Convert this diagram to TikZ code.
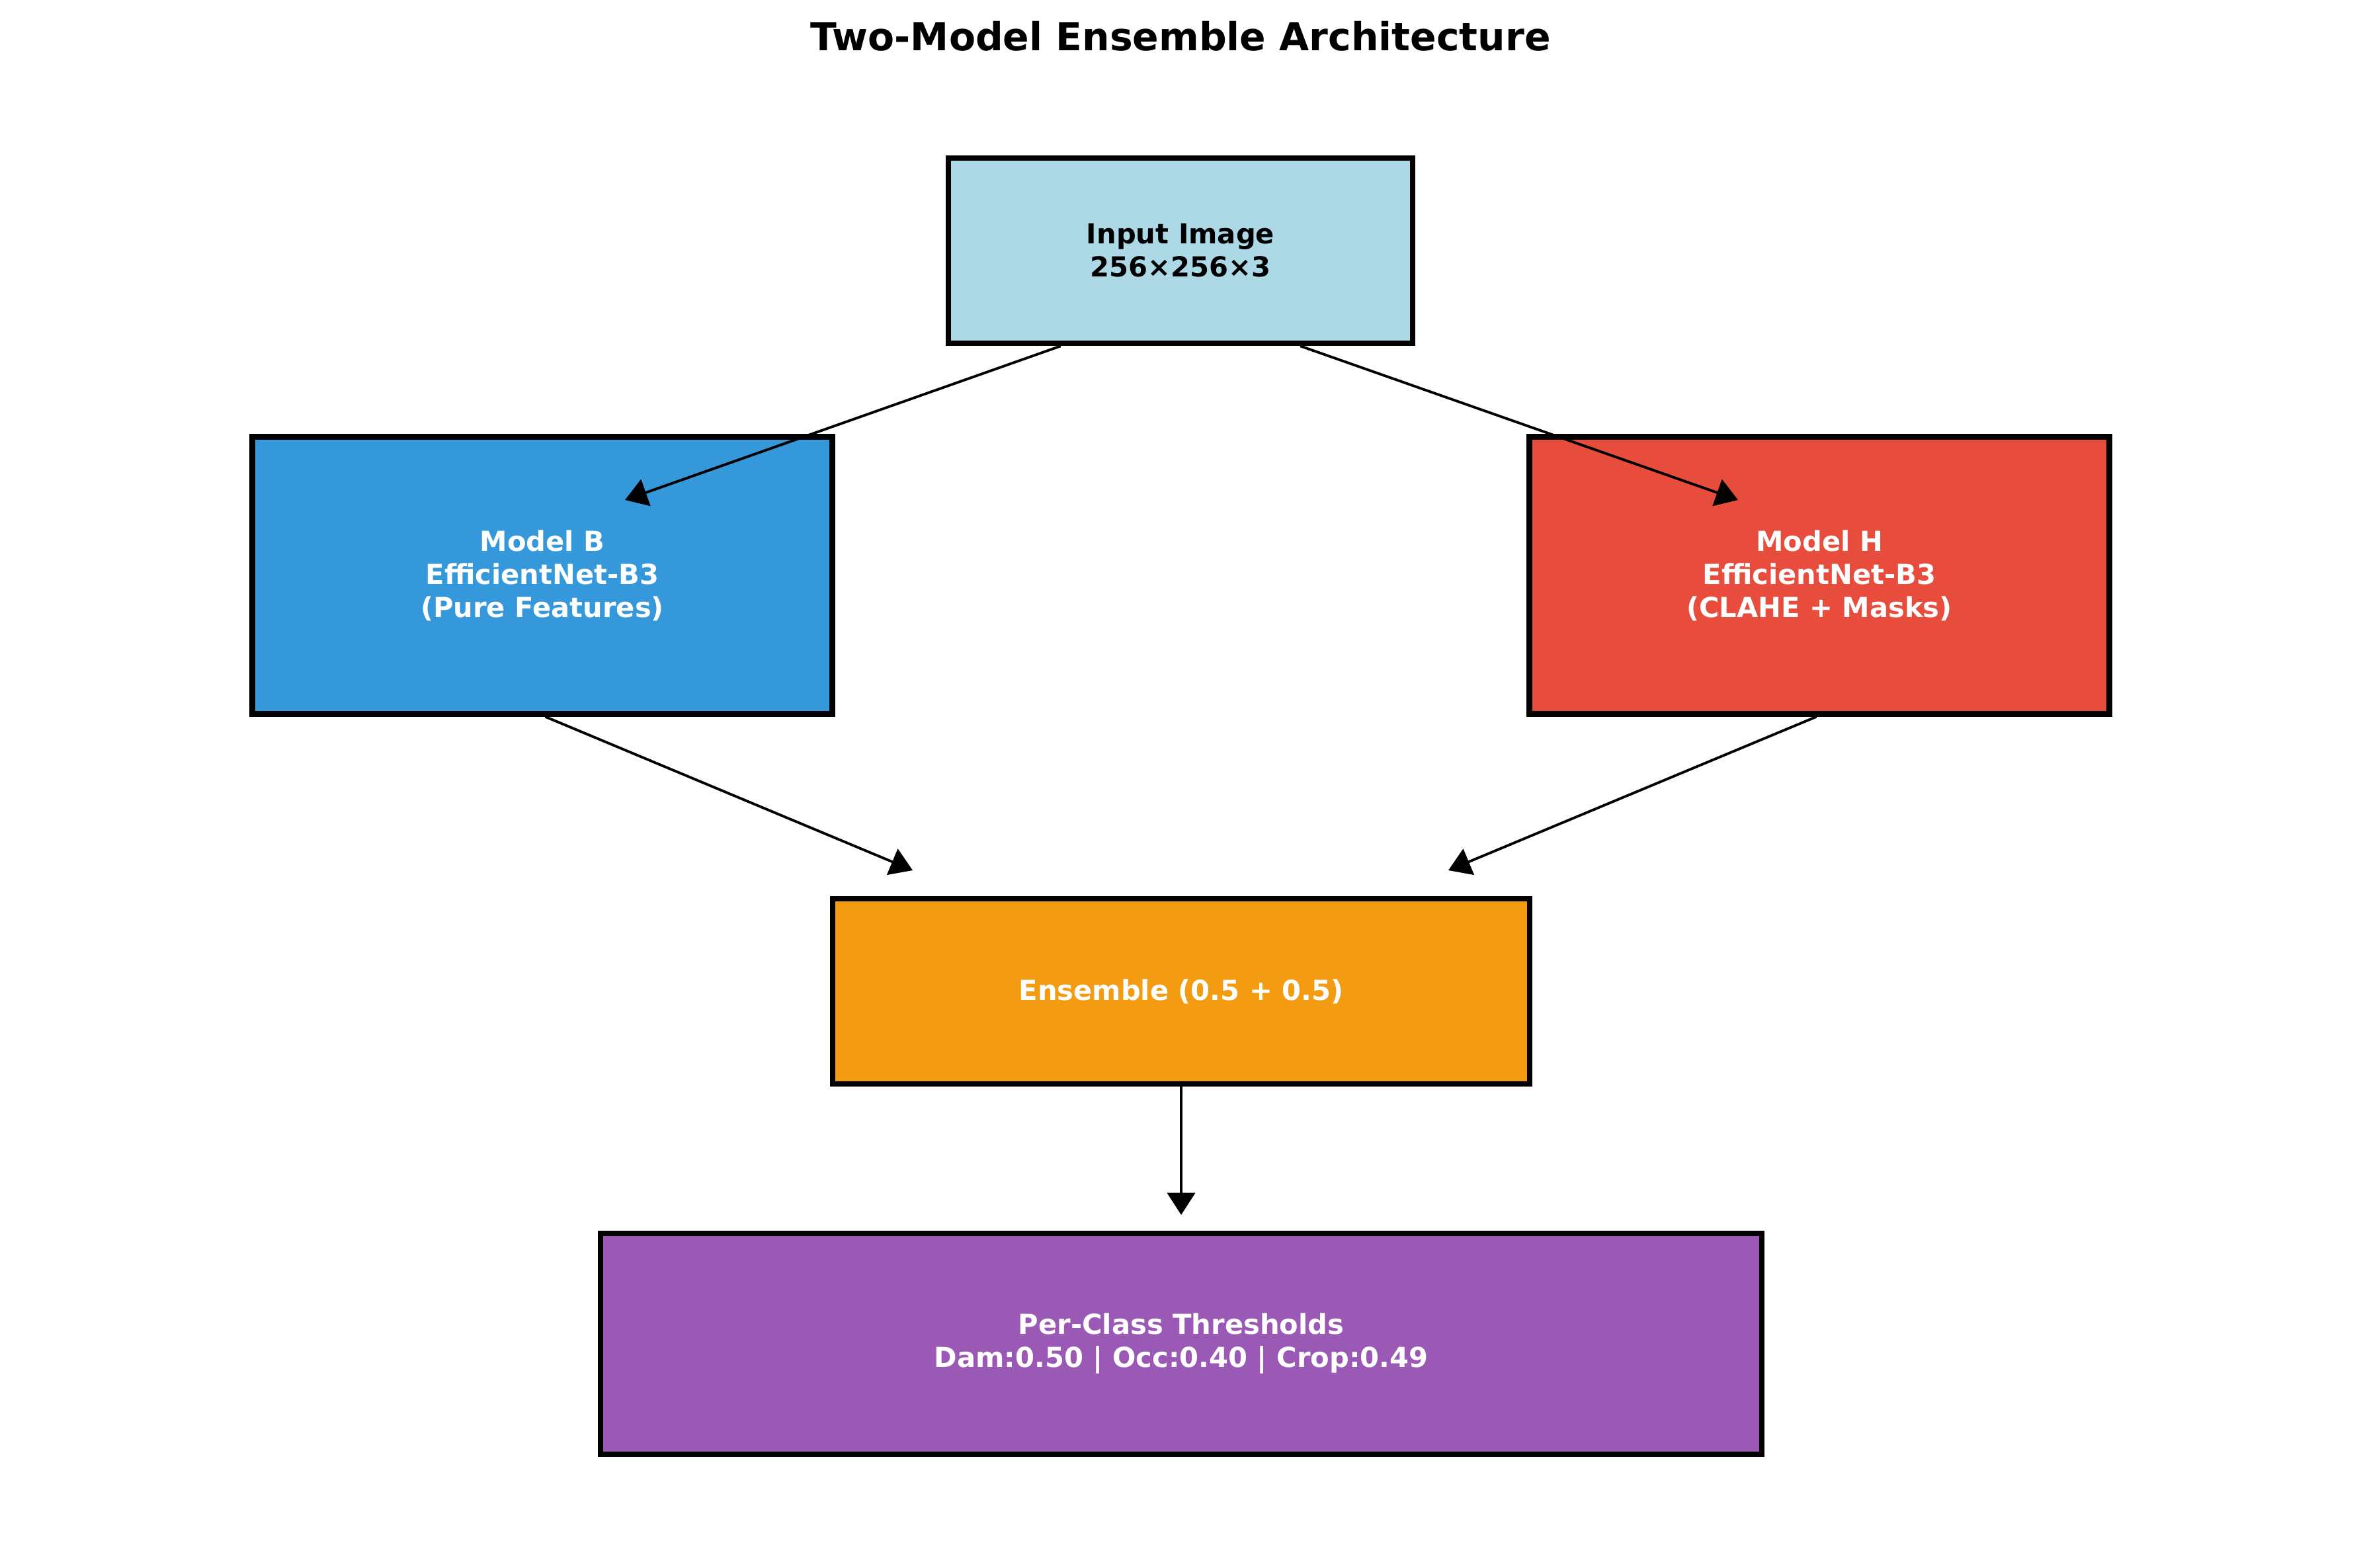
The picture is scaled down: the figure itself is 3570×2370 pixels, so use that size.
\documentclass[tikz,border=0pt]{standalone}
\usepackage{fontspec}
\setmainfont{DejaVu Sans}
\usetikzlibrary{arrows.meta,calc}
\definecolor{cinput}{HTML}{ADD8E6}
\definecolor{cmodelb}{HTML}{3498DB}
\definecolor{cmodelh}{HTML}{E74C3C}
\definecolor{censem}{HTML}{F39C12}
\definecolor{cthresh}{HTML}{9B59B6}
\tikzset{
  box/.style={draw=black, line width=2.4pt, rectangle, inner sep=0pt, align=center,
    font=\fontsize{11.85}{14.2}\selectfont\bfseries},
  flow/.style={line width=1.1pt, -{Triangle[length=9.5pt,width=12pt]}},
}
\begin{document}
\begin{tikzpicture}[x=0.1mm,y=-0.1mm]
\useasboundingbox (0,0) rectangle (3570,2370);
\node[font=\fontsize{16.6}{20}\selectfont\bfseries] (title) at (1785,55) {Two-Model Ensemble Architecture};
\node[box, fill=cinput, text=black, minimum width=702*0.1mm, minimum height=280*0.1mm] (inp) at (1785,379) {Input Image\\256×256×3};
\node[box, fill=cmodelb, text=white, minimum width=877*0.1mm, minimum height=419*0.1mm] (mb) at (820,870) {Model B\\EfficientNet-B3\\(Pure Features)};
\node[box, fill=cmodelh, text=white, minimum width=877*0.1mm, minimum height=419*0.1mm] (mh) at (2751,870) {Model H\\EfficientNet-B3\\(CLAHE + Masks)};
\node[box, fill=censem, text=white, minimum width=1054*0.1mm, minimum height=280*0.1mm] (ens) at (1786,1499) {Ensemble (0.5 + 0.5)};
\node[box, fill=cthresh, text=white, minimum width=1756*0.1mm, minimum height=334*0.1mm] (pc) at (1786,2032) {Per-Class Thresholds\\Dam:0.50 | Occ:0.40 | Crop:0.49};
\coordinate (tipB) at (945,756);
\coordinate (tipH) at (2628,756);
\coordinate (tipEB) at (1380,1316);
\coordinate (tipEH) at (2190,1316);
\coordinate (tipPC) at (1786,1837);
\draw[flow] ($(inp.south west)!0.245!(inp.south east)$) -- (tipB);
\draw[flow] ($(inp.south west)!0.755!(inp.south east)$) -- (tipH);
\draw[flow] ($(mb.south west)!0.505!(mb.south east)$) -- (tipEB);
\draw[flow] ($(mh.south west)!0.495!(mh.south east)$) -- (tipEH);
\draw[flow] (ens.south) -- (tipPC);
\end{tikzpicture}
\end{document}
